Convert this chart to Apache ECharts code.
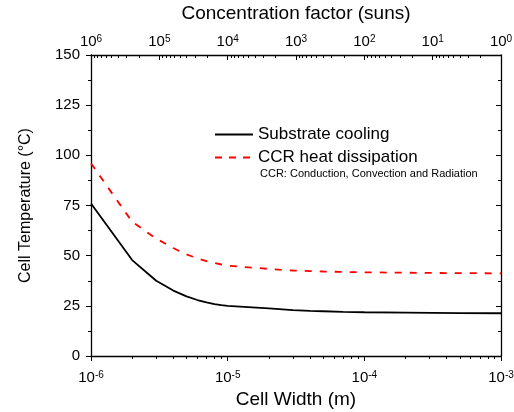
<!DOCTYPE html>
<html>
<head>
<meta charset="utf-8">
<script src="https://cdn.jsdelivr.net/npm/echarts@6/dist/echarts.min.js"></script>
<style>
  html, body { margin: 0; padding: 0; background: #fff; }
  #chart { width: 514px; height: 412px; }
</style>
</head>
<body>
<div id="chart"></div>
<script>
// cell width (m)
const widths = [1e-6, 2e-6, 3e-6, 4e-6, 5e-6, 6e-6, 7e-6, 8e-6, 9e-6,
  1e-5, 2e-5, 3e-5, 4e-5, 5e-5, 7e-5, 1e-4, 2e-4, 5e-4, 1e-3]
// cell temperature (°C)
const substrateCooling = [76, 47.8, 37.5, 32.6, 29.7, 27.9, 26.7, 25.9, 25.4,
  25.0, 23.7, 22.9, 22.5, 22.3, 22.0, 21.8, 21.6, 21.4, 21.3]
const ccrDissipation = [96, 66.9, 58.5, 53.8, 50.6, 48.7, 47.3, 46.3, 45.6,
  45.0, 43.4, 42.6, 42.3, 42.1, 41.9, 41.7, 41.5, 41.3, 41.2]

const widthMinorTicks = []
for (let e = -6; e < -3; e++) {
  for (let k = 2; k <= 9; k++) widthMinorTicks.push(k * Math.pow(10, e))
}
const sunsMinorTicks = []
for (let e = 0; e < 6; e++) {
  for (let k = 2; k <= 9; k++) sunsMinorTicks.push(k * Math.pow(10, e))
}

const font = 'Liberation Sans, Arial, sans-serif'
const axisColor = '#000'

const powLabel = (v) => '10{sup|' + Math.round(Math.log10(v)) + '}'
const powRich = {
  sup: { fontSize: 10, fontFamily: font, color: '#000', padding: [0, 0, 6, 0] }
}

const chart = echarts.init(document.getElementById('chart'))

chart.setOption({
  animation: false,
  grid: { left: 91, right: 13, top: 55, bottom: 56, outerBoundsMode: 'none' },
  legend: {
    orient: 'vertical',
    left: 209,
    top: 121,
    itemWidth: 38,
    itemHeight: 14,
    itemGap: 6,
    itemStyle: { opacity: 0 },
    textStyle: { fontSize: 17, fontFamily: font, color: '#000' },
    data: [
      { name: 'Substrate cooling' },
      { name: 'CCR heat dissipation', lineStyle: { type: [7, 7] } }
    ]
  },
  graphic: [{
    type: 'text',
    left: 260,
    top: 168,
    style: {
      text: 'CCR: Conduction, Convection and Radiation',
      fontSize: 11,
      fontFamily: font,
      fill: '#000'
    }
  }],
  xAxis: [{
    type: 'log',
    logBase: 10,
    min: 1e-6,
    max: 1e-3,
    position: 'bottom',
    name: 'Cell Width (m)',
    nameLocation: 'middle',
    nameGap: 33,
    nameTextStyle: { fontSize: 19, fontFamily: font, color: '#000' },
    axisLine: { lineStyle: { color: axisColor, width: 1.3 } },
    axisTick: { inside: false, length: 5, lineStyle: { color: axisColor } },
    axisLabel: {
      fontSize: 15, fontFamily: font, color: '#000', margin: 14,
      formatter: powLabel, rich: powRich
    },
    splitLine: { show: false }
  }, {
    type: 'log',
    logBase: 10,
    min: 1e-6,
    max: 1e-3,
    position: 'bottom',
    axisLine: { show: false },
    axisTick: { inside: false, length: 3, customValues: widthMinorTicks, lineStyle: { color: axisColor } },
    axisLabel: { show: false },
    splitLine: { show: false }
  }, {
    type: 'log',
    logBase: 10,
    min: 1,
    max: 1e6,
    inverse: true,
    position: 'top',
    name: 'Concentration factor (suns)',
    nameLocation: 'middle',
    nameGap: 32,
    nameTextStyle: { fontSize: 19, fontFamily: font, color: '#000' },
    axisLine: { lineStyle: { color: axisColor, width: 1.3 } },
    axisTick: { inside: true, length: 5, lineStyle: { color: axisColor } },
    axisLabel: {
      fontSize: 15, fontFamily: font, color: '#000', margin: 5,
      formatter: powLabel, rich: powRich
    },
    splitLine: { show: false }
  }, {
    type: 'log',
    logBase: 10,
    min: 1,
    max: 1e6,
    inverse: true,
    position: 'top',
    axisLine: { show: false },
    axisTick: { inside: true, length: 3, customValues: sunsMinorTicks, lineStyle: { color: axisColor } },
    axisLabel: { show: false },
    splitLine: { show: false }
  }],
  yAxis: [{
    type: 'value',
    min: 0,
    max: 150,
    interval: 25,
    position: 'left',
    name: 'Cell Temperature (°C)',
    nameLocation: 'middle',
    nameGap: 57,
    nameTextStyle: { fontSize: 16, fontFamily: font, color: '#000' },
    axisLine: { show: true, lineStyle: { color: axisColor, width: 1.3 } },
    axisTick: { show: true, inside: false, length: 5, lineStyle: { color: axisColor } },
    minorTick: { show: true, splitNumber: 2, length: 3, lineStyle: { color: axisColor } },
    axisLabel: { fontSize: 15, fontFamily: font, color: '#000', margin: 11 },
    splitLine: { show: false }
  }, {
    type: 'value',
    min: 0,
    max: 150,
    interval: 25,
    position: 'right',
    axisLine: { show: true, lineStyle: { color: axisColor, width: 1.3 } },
    axisTick: { show: true, inside: true, length: 5, lineStyle: { color: axisColor } },
    minorTick: { show: true, splitNumber: 2, length: 3, lineStyle: { color: axisColor } },
    axisLabel: { show: false },
    splitLine: { show: false }
  }],
  series: [{
    name: 'Substrate cooling',
    type: 'line',
    xAxisIndex: 0,
    yAxisIndex: 0,
    symbol: 'none',
    lineStyle: { color: '#000', width: 1.8 },
    itemStyle: { color: '#000' },
    data: widths.map((w, i) => [w, substrateCooling[i]])
  }, {
    name: 'CCR heat dissipation',
    type: 'line',
    xAxisIndex: 0,
    yAxisIndex: 0,
    symbol: 'none',
    lineStyle: { color: '#ff0000', width: 1.8, type: [7, 8] },
    itemStyle: { color: '#ff0000' },
    data: widths.map((w, i) => [w, ccrDissipation[i]])
  }]
})
</script>
</body>
</html>
